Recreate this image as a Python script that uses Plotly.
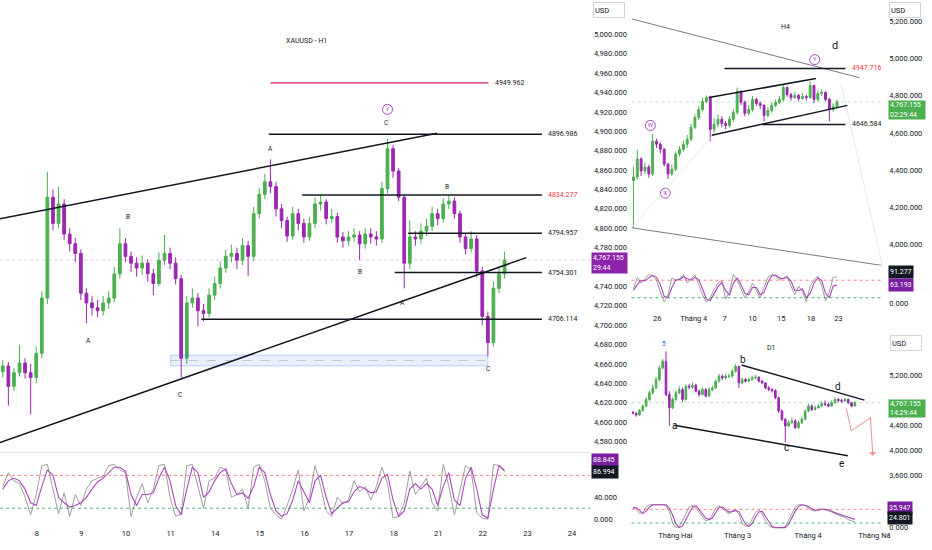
import plotly.graph_objects as go

FONT = "Roboto"
GREEN = "#4caf50"
PURPLE = "#9c27b0"
CIRCLE = "#ab47bc"
INK = "#131722"
RED = "#f23645"
GRAY = "#787b86"

# ---- H1 (main chart) ----
h1_first_open = 4652
h1_close = [4658, 4637, 4651, 4661, 4651, 4646, 4671, 4728, 4832, 4805,
            4825, 4794, 4784, 4774, 4733, 4723, 4718, 4715, 4723, 4728,
            4753, 4784, 4771, 4764, 4759, 4764, 4753, 4743, 4767, 4774,
            4764, 4748, 4666, 4723, 4728, 4715, 4712, 4731, 4743, 4759,
            4771, 4774, 4767, 4782, 4771, 4815, 4835, 4848, 4843, 4820,
            4808, 4792, 4815, 4805, 4791, 4805, 4825, 4827, 4810, 4812,
            4791, 4787, 4791, 4793, 4784, 4794, 4791, 4789, 4841, 4882,
            4859, 4832, 4764, 4791, 4789, 4797, 4802, 4815, 4810, 4825,
            4828, 4815, 4791, 4779, 4789, 4756, 4709, 4682, 4738, 4753,
            4767.155]
h1_high = [4664, 4662, 4656, 4680, 4666, 4660, 4678, 4735, 4858, 4840,
           4843, 4830, 4800, 4790, 4778, 4738, 4730, 4726, 4730, 4735,
           4760, 4800, 4790, 4776, 4770, 4772, 4768, 4758, 4775, 4793,
           4780, 4770, 4752, 4730, 4738, 4733, 4722, 4738, 4750, 4766,
           4778, 4783, 4780, 4790, 4787, 4822, 4842, 4856, 4871, 4848,
           4825, 4812, 4822, 4820, 4810, 4812, 4832, 4834, 4830, 4820,
           4816, 4796, 4797, 4800, 4797, 4800, 4800, 4797, 4848, 4892,
           4886, 4862, 4834, 4808, 4797, 4805, 4810, 4822, 4820, 4831,
           4834, 4832, 4818, 4795, 4797, 4793, 4760, 4714, 4745, 4760,
           4776]
h1_low = [4646, 4617, 4632, 4647, 4645, 4608, 4640, 4666, 4722, 4798,
          4800, 4788, 4776, 4765, 4726, 4702, 4710, 4708, 4710, 4717,
          4724, 4748, 4765, 4755, 4750, 4752, 4745, 4731, 4740, 4762,
          4758, 4742, 4646, 4660, 4718, 4699, 4704, 4708, 4726, 4738,
          4754, 4765, 4758, 4762, 4751, 4766, 4810, 4830, 4836, 4812,
          4800, 4786, 4788, 4798, 4785, 4787, 4800, 4818, 4804, 4805,
          4785, 4780, 4782, 4786, 4767, 4779, 4784, 4782, 4785, 4836,
          4852, 4828, 4738, 4758, 4782, 4784, 4792, 4797, 4803, 4806,
          4820, 4810, 4785, 4773, 4775, 4750, 4700, 4668, 4678, 4733,
          4748]
h1_stoch_k = [60, 85, 70, 65, 40, 8, 45, 98, 100, 55,
              10, 48, 5, 45, 25, 55, 70, 75, 78, 98,
              100, 90, 85, 5, 40, 65, 30, 55, 98, 100,
              40, 5, 10, 98, 100, 60, 20, 70, 75, 95,
              90, 40, 45, 55, 20, 95, 100, 70, 20, 8,
              0, 25, 55, 90, 15, 40, 98, 60, 15, 5,
              40, 28, 35, 70, 50, 60, 35, 60, 95, 65,
              2, 5, 30, 88, 45, 60, 75, 30, 15, 100,
              60, 8, 55, 98, 90, 12, 2, 0, 100, 98,
              87]
h1_stoch_d = [55, 70, 75, 70, 55, 30, 25, 60, 90, 80,
              40, 30, 22, 25, 30, 40, 55, 68, 75, 85,
              95, 95, 88, 45, 25, 45, 45, 48, 75, 95,
              70, 25, 8, 55, 95, 85, 40, 50, 70, 85,
              92, 65, 45, 48, 38, 60, 95, 85, 45, 15,
              5, 10, 35, 70, 50, 30, 70, 80, 40, 10,
              20, 30, 32, 50, 60, 55, 48, 50, 75, 82,
              35, 5, 15, 55, 65, 55, 65, 55, 25, 60,
              85, 35, 25, 75, 95, 55, 8, 2, 55, 98,
              89]
h1_days = ["8", "9", "10", "11", "14", "15", "16", "17", "18", "21", "22", "23", "24"]
h1_levels = [4949.962, 4896.986, 4834.277, 4794.957, 4754.301, 4706.114]
last_price = 4767.155

# ---- H4 ----
h4_first_open = 4345
h4_close = [4364, 4460, 4396, 4417, 4380, 4556, 4540, 4513, 4433, 4380,
            4406, 4487, 4513, 4540, 4567, 4631, 4684, 4727, 4770, 4791,
            4620, 4647, 4674, 4652, 4641, 4674, 4711, 4824, 4765, 4706,
            4727, 4781, 4759, 4749, 4695, 4722, 4749, 4765, 4781, 4845,
            4807, 4791, 4802, 4786, 4797, 4791, 4856, 4781, 4813, 4818,
            4781, 4727, 4743, 4767.155]
h4_high = [4420, 4510, 4470, 4440, 4430, 4594, 4570, 4550, 4520, 4440,
           4430, 4500, 4530, 4560, 4590, 4650, 4700, 4745, 4790, 4802,
           4800, 4680, 4700, 4690, 4665, 4690, 4730, 4845, 4830, 4775,
           4750, 4800, 4790, 4770, 4755, 4740, 4765, 4780, 4800, 4860,
           4850, 4815, 4820, 4810, 4815, 4805, 4877, 4860, 4830, 4835,
           4825, 4790, 4760, 4780]
h4_low = [4091, 4350, 4370, 4380, 4360, 4370, 4520, 4490, 4420, 4353,
          4370, 4395, 4475, 4500, 4520, 4555, 4620, 4670, 4715, 4760,
          4556, 4600, 4630, 4630, 4620, 4630, 4660, 4700, 4750, 4690,
          4695, 4715, 4745, 4730, 4663, 4685, 4710, 4740, 4755, 4770,
          4795, 4775, 4785, 4770, 4780, 4775, 4785, 4760, 4770, 4800,
          4770, 4663, 4715, 4735]
h4_stoch_k = [50, 90, 70, 85, 100, 95, 80, 40, 5, 30,
              88, 80, 85, 100, 70, 85, 98, 65, 30, 5,
              20, 50, 70, 80, 15, 40, 100, 80, 50, 20,
              40, 70, 45, 20, 55, 90, 100, 95, 80, 88,
              95, 60, 30, 60, 40, 5, 60, 80, 95, 60,
              10, 40, 90, 91.277]
h4_stoch_d = [45, 65, 80, 78, 88, 97, 90, 65, 25, 20,
              55, 80, 82, 92, 85, 80, 90, 82, 50, 15,
              10, 35, 58, 72, 45, 28, 70, 88, 65, 35,
              30, 55, 55, 30, 38, 72, 95, 98, 88, 85,
              90, 78, 45, 45, 50, 20, 35, 70, 88, 80,
              35, 20, 60, 63.193]
h4_ticks = ["26", "Tháng 4", "7", "10", "15", "18", "23"]
h4_levels = [4947.716, 4646.584]

# ---- D1 ----
d1_first_open = 4610
d1_close = [4592, 4566, 4640, 4710, 4816, 4923, 5003, 5136, 5323, 5430,
            4896, 4683, 4816, 4923, 4976, 4816, 5030, 5014, 5046, 4950,
            4896, 4976, 4870, 4976, 5003, 5110, 5190, 5163, 5190, 5190,
            5270, 5350, 5083, 5136, 5110, 5136, 5163, 5174, 5110, 5083,
            5003, 4976, 4960, 4843, 4630, 4496, 4390, 4443, 4470, 4363,
            4443, 4496, 4630, 4710, 4656, 4683, 4710, 4747, 4736, 4710,
            4763, 4816, 4800, 4790, 4816, 4763, 4710, 4767.155]
d1_high = [4630, 4610, 4660, 4740, 4850, 4960, 5050, 5180, 5360, 5470,
           5590, 4950, 4850, 4960, 5030, 5010, 5060, 5070, 5090, 5070,
           4980, 5010, 5000, 5010, 5040, 5140, 5230, 5220, 5230, 5230,
           5300, 5390, 5360, 5170, 5160, 5170, 5200, 5210, 5190, 5130,
           5100, 5030, 5000, 4980, 4860, 4660, 4520, 4480, 4530, 4500,
           4480, 4540, 4660, 4750, 4740, 4720, 4740, 4790, 4800, 4770,
           4800, 4850, 4840, 4830, 4840, 4830, 4780, 4790]
d1_low = [4580, 4540, 4550, 4620, 4690, 4790, 4900, 4980, 5110, 5300,
          4870, 4390, 4660, 4790, 4900, 4780, 4800, 4980, 4990, 4930,
          4860, 4880, 4850, 4860, 4950, 4990, 5090, 5130, 5140, 5160,
          5170, 5250, 5000, 5060, 5090, 5100, 5120, 5140, 5090, 5060,
          4980, 4950, 4930, 4820, 4600, 4470, 4123, 4370, 4420, 4340,
          4350, 4420, 4480, 4610, 4630, 4640, 4670, 4700, 4710, 4690,
          4700, 4750, 4770, 4760, 4780, 4740, 4690, 4740]
d1_stoch_k = [92, 80, 62, 65, 90, 100, 100, 100, 100, 100,
              95, 70, 20, 0, 5, 30, 60, 90, 98, 85,
              65, 45, 30, 35, 55, 85, 95, 85, 70, 60,
              75, 78, 60, 20, 5, 10, 40, 65, 80, 60,
              30, 10, 0, 0, 0, 0, 5, 35, 65, 90,
              100, 100, 95, 85, 75, 72, 80, 82, 78, 75,
              68, 60, 55, 50, 45, 35, 30, 24.801]
d1_stoch_d = [85, 88, 75, 62, 72, 90, 100, 100, 100, 100,
              100, 85, 55, 15, 0, 8, 35, 65, 90, 95,
              80, 60, 42, 35, 42, 65, 88, 90, 80, 68,
              70, 75, 70, 45, 15, 5, 18, 45, 68, 72,
              50, 25, 5, 0, 0, 0, 0, 15, 42, 72,
              92, 100, 98, 92, 82, 76, 76, 80, 80, 78,
              72, 65, 60, 55, 50, 45, 40, 35.947]
d1_ticks = ["Tháng Hai", "Tháng 3", "Tháng 4", "Tháng Nă"]


def fx(p):
    return p / 932


def fy(p):
    return 1 - p / 550


shapes = []
annotations = []


def seg(xr, yr, x0, y0, x1, y1, color=INK, width=1.5, dash="solid"):
    shapes.append(dict(type="line", xref=xr, yref=yr, x0=x0, y0=y0, x1=x1, y1=y1,
                       line=dict(color=color, width=width, dash=dash)))


def label(xr, yr, x, y, s, size=7, color=INK, anchor="center"):
    annotations.append(dict(xref=xr, yref=yr, x=x, y=y, text=s, showarrow=False,
                            xanchor=anchor, yanchor="middle",
                            font=dict(family=FONT, size=size, color=color)))


def tag(px, py, s, bg, w=33, h=10):
    annotations.append(dict(xref="paper", yref="paper", x=fx(px), y=fy(py), text=s,
                            showarrow=False, xanchor="left", yanchor="middle",
                            bgcolor=bg, width=w, height=h, align="left", borderpad=1,
                            font=dict(family=FONT, size=7, color="white")))


def usd_box(px, py):
    annotations.append(dict(xref="paper", yref="paper", x=fx(px), y=fy(py), text="USD",
                            showarrow=False, xanchor="left", yanchor="middle",
                            bgcolor="white", bordercolor="#d1d4dc", borderwidth=1,
                            width=28, height=12, align="left", borderpad=1,
                            font=dict(family=FONT, size=7.5, color=INK)))


def candles(o, h, l, c, xa, ya):
    return go.Candlestick(
        x=list(range(len(c))), open=o, high=h, low=l, close=c, xaxis=xa, yaxis=ya,
        increasing=dict(line=dict(color=GREEN, width=1), fillcolor=GREEN),
        decreasing=dict(line=dict(color=PURPLE, width=1), fillcolor=PURPLE),
        whiskerwidth=0, showlegend=False, hoverinfo="skip")


def stoch(k, d, xa, ya):
    xs = list(range(len(k)))
    return [go.Scatter(x=xs, y=k, xaxis=xa, yaxis=ya, mode="lines", showlegend=False,
                       line=dict(color="#9e9e9e", width=1), hoverinfo="skip"),
            go.Scatter(x=xs, y=d, xaxis=xa, yaxis=ya, mode="lines", showlegend=False,
                       line=dict(color=CIRCLE, width=1.1), hoverinfo="skip")]


def circled(xa, ya, xs, ys, letters):
    return go.Scatter(x=xs, y=ys, xaxis=xa, yaxis=ya, mode="markers+text", text=letters,
                      textposition="middle center", showlegend=False, hoverinfo="skip",
                      textfont=dict(family=FONT, size=6, color=CIRCLE),
                      marker=dict(symbol="circle-open", size=10, color=CIRCLE,
                                  line=dict(width=1, color=CIRCLE)))


def stoch_bands(xr, yr):
    seg(xr + " domain", yr, 0, 80, 1, 80, color="rgba(242,54,69,0.6)", width=1, dash="dot")
    seg(xr + " domain", yr, 0, 20, 1, 20, color="rgba(8,153,60,0.7)", width=1, dash="3px,3px")


fig = go.Figure()

# ---------- main H1 ----------
h1_open = [h1_first_open] + h1_close[:-1]
fig.add_trace(candles(h1_open, h1_high, h1_low, h1_close, "x", "y"))
for t in stoch(h1_stoch_k, h1_stoch_d, "x2", "y2"):
    fig.add_trace(t)
fig.add_trace(circled("x", "y", [69.0], [4922.6], ["Y"]))

seg("x", "y", -0.5, last_price, 106, last_price, color="rgba(186,104,200,0.35)", width=1, dash="dot")
shapes.append(dict(type="rect", xref="x", yref="y", x0=30.1, x1=87, y0=4658, y1=4669.2,
                   fillcolor="rgba(41,98,255,0.10)", line=dict(color="rgba(41,98,255,0.25)", width=1)))
seg("x", "y", 30.1, 4663.6, 87, 4663.6, color="rgba(120,123,134,0.45)", width=0.8, dash="dash")
seg("x", "y", 48.0, h1_levels[0], 87.1, h1_levels[0], color="#d81b60", width=1.2)
seg("x", "y", 47.7, h1_levels[1], 96.7, h1_levels[1])
seg("x", "y", 53.7, h1_levels[2], 96.7, h1_levels[2])
seg("x", "y", 72.7, h1_levels[3], 96.7, h1_levels[3])
seg("x", "y", 70.3, h1_levels[4], 96.7, h1_levels[4])
seg("x", "y", 35.6, h1_levels[5], 96.7, h1_levels[5])
seg("x", "y", -0.5, 4809.7, 77.9, 4898)
seg("x", "y", -0.5, 4579, 93.9, 4769.7)

label("x", "y", 87.9, h1_levels[0], "4949.962", anchor="left")
for lv in h1_levels[1:]:
    label("x", "y", 97.5, lv, f"{lv:.3f}", anchor="left",
          color=RED if lv == 4834.277 else INK)
label("x", "y", 54.4, 4993.3, "XAUUSD - H1")
for xx, yy, s in [(68.8, 4908.2, "C"), (48.0, 4881.5, "A"), (22.4, 4811.8, "B"),
                  (79.7, 4842.6, "B"), (64.0, 4754.4, "B"), (71.7, 4722.6, "A"),
                  (15.4, 4684, "A"), (31.8, 4628, "C"), (87, 4655, "C")]:
    label("x", "y", xx, yy, s, size=6.5)
stoch_bands("x2", "y2")
shapes.append(dict(type="line", xref="paper", yref="paper", x0=0, x1=fx(595),
                   y0=fy(455), y1=fy(455), line=dict(color="#e0e3eb", width=1)))

# ---------- H4 ----------
h4_open = [h4_first_open] + h4_close[:-1]
fig.add_trace(candles(h4_open, h4_high, h4_low, h4_close, "x3", "y3"))
for t in stoch(h4_stoch_k, h4_stoch_d, "x4", "y4"):
    fig.add_trace(t)
fig.add_trace(circled("x3", "y3", [4.4, 8.3, 47.2], [4641, 4277, 4995], ["W", "X", "Y"]))

seg("x3", "y3", -0.5, last_price, 64.8, last_price, color="rgba(76,175,80,0.35)", width=1, dash="dot")
seg("x3", "y3", -0.5, 5214, 58.8, 4898, color=GRAY, width=1)
seg("x3", "y3", -0.5, 4091, 64.8, 3888, color=GRAY, width=1)
seg("x3", "y3", -0.5, 4091, 20.5, 4583, color="#e3e5ea", width=0.8)
seg("x3", "y3", 54.0, 4870, 64.8, 3888, color="#e3e5ea", width=0.8)
seg("x3", "y3", 23.7, h4_levels[0], 55.2, h4_levels[0])
seg("x3", "y3", 33.5, h4_levels[1], 55.2, h4_levels[1])
seg("x3", "y3", 19.6, 4791, 47.5, 4893)
seg("x3", "y3", 20.4, 4588, 55.7, 4749)
label("x3", "y3", 56.3, h4_levels[0], "4947.716", color=RED, anchor="left")
label("x3", "y3", 56.5, h4_levels[1], "4646.584", anchor="left")
label("x3", "y3", 39.7, 5171, "H4")
label("x3", "y3", 52.4, 5070, "d", size=11)
stoch_bands("x4", "y4")

# ---------- D1 ----------
d1_open = [d1_first_open] + d1_close[:-1]
fig.add_trace(candles(d1_open, d1_high, d1_low, d1_close, "x5", "y5"))
for t in stoch(d1_stoch_k, d1_stoch_d, "x6", "y6"):
    fig.add_trace(t)

seg("x5", "y5", -0.4, last_price, 75.3, last_price, color="rgba(76,175,80,0.35)", width=1, dash="dot")
seg("x5", "y5", 32.8, 5371, 69.9, 4806)
seg("x5", "y5", 12.5, 4400, 64.9, 3910)
pink = "#f48f8f"
seg("x5", "y5", 64.4, 4683, 65.9, 4310, color=pink, width=1)
seg("x5", "y5", 65.9, 4310, 71.7, 4523, color=pink, width=1)
seg("x5", "y5", 71.7, 4523, 72.4, 3930, color=pink, width=1)
annotations.append(dict(xref="x5", yref="y5", x=72.4, y=3910, axref="x5", ayref="y5",
                        ax=72.3, ay=4060, text="", showarrow=True, arrowhead=1,
                        arrowsize=1.2, arrowwidth=1, arrowcolor=pink))
label("x5", "y5", 41.7, 5643, "D1")
label("x5", "y5", 9.5, 5707, "5", size=6.5, color="#2962ff")
for xx, yy, s in [(33.1, 5456, "b"), (61.8, 5030, "d"), (12.5, 4390, "a"),
                  (46.3, 4043, "c"), (63.0, 3787, "e")]:
    label("x5", "y5", xx, yy, s, size=10)
stoch_bands("x6", "y6")

# ---------- price tags / boxes ----------
usd_box(598, 10.5)
usd_box(897, 10.5)
usd_box(898, 344.5)
tag(596, 264.5, "4,767.155<br>29:44", "#8e24aa", h=18)
tag(596, 462.5, "88.845", "#7b1fa2", w=24)
tag(596, 474.5, "86.994", "#131722", w=24)
tag(896, 110.5, "4,767.155<br>02:29:44", GREEN, w=34, h=16)
tag(896, 273.5, "91.277", "#131722", w=22)
tag(896, 286.5, "63.193", "#7b1fa2", w=22)
tag(896, 410.5, "4,767.155<br>14:29:44", GREEN, w=34, h=15)
tag(895, 510.5, "35.947", "#7b1fa2", w=22)
tag(895, 520.5, "24.801", "#131722", w=22)

tick_font = dict(family=FONT, size=7.5, color=INK)
base = dict(showgrid=False, zeroline=False, showline=False, ticks="", fixedrange=True,
            tickfont=tick_font)
h1_tick_pos = [6.1 + 8 * k for k in range(len(h1_days))]
h4_tick_pos = [6.2, 15.7, 23.7, 31.0, 38.5, 46.2, 53.4]
d1_tick_pos = [12.8, 31.6, 52.9, 72.9]

fig.update_layout(
    width=932, height=550, margin=dict(l=0, r=0, t=0, b=0),
    paper_bgcolor="white", plot_bgcolor="white", showlegend=False,
    font=dict(family=FONT, color=INK),
    shapes=shapes, annotations=annotations,
    xaxis=dict(base, domain=[0, fx(595)], range=[-0.5, 105.3], anchor="y",
               showticklabels=False, rangeslider=dict(visible=False)),
    yaxis=dict(base, domain=[fy(455), 1], range=[4568.7, 5035.4], side="right", anchor="x",
               tickvals=[v for v in range(4580, 5001, 20) if v != 4760], tickformat=",.3f",
               ticklabelstandoff=3),
    xaxis2=dict(base, domain=[0, fx(595)], range=[-0.5, 105.3], anchor="y2",
                tickvals=h1_tick_pos, ticktext=h1_days),
    yaxis2=dict(base, domain=[fy(530), fy(455)], range=[-14.5, 121.8], side="right",
                anchor="x2", tickvals=[0, 40], tickformat=",.3f", ticklabelstandoff=3),
    xaxis3=dict(base, domain=[fx(637), fx(890)], range=[-0.5, 64.8], anchor="y3",
                showticklabels=False, rangeslider=dict(visible=False)),
    yaxis3=dict(base, domain=[fy(267), 1], range=[3887.7, 5315.5], side="right", anchor="x3",
                tickvals=list(range(4000, 5201, 200)), tickformat=",.3f", ticklabelstandoff=6),
    xaxis4=dict(base, domain=[fx(637), fx(890)], range=[-0.5, 64.8], anchor="y4",
                tickvals=h4_tick_pos, ticktext=h4_ticks),
    yaxis4=dict(base, domain=[fy(314), fy(268)], range=[-30, 127], side="right", anchor="x4",
                tickvals=[0], tickformat=",.3f", ticklabelstandoff=6),
    xaxis5=dict(base, domain=[fx(637), fx(890)], range=[-0.4, 75.3], anchor="y5",
                showticklabels=False, rangeslider=dict(visible=False)),
    yaxis5=dict(base, domain=[fy(498), fy(336)], range=[3275, 5867], side="right", anchor="x5",
                tickvals=[3600, 4000, 4400, 5200], tickformat=",.3f", ticklabelstandoff=6),
    xaxis6=dict(base, domain=[fx(637), fx(890)], range=[-0.4, 75.3], anchor="y6",
                tickvals=d1_tick_pos, ticktext=d1_ticks),
    yaxis6=dict(base, domain=[fy(532), fy(500)], range=[-6.5, 132.6], side="right", anchor="x6",
                tickvals=[0], tickformat=",.3f", ticklabelstandoff=6),
)

# the page's default body margin would shift the whole figure by 8px
fig.write_html("out.html", config={"displayModeBar": False},
               post_script="document.body.style.margin='0';")
